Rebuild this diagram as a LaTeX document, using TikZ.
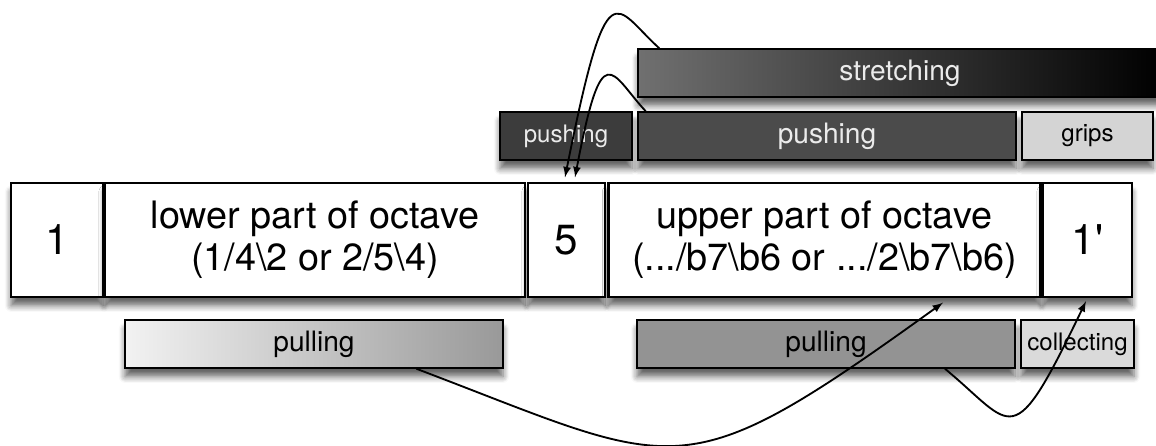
\documentclass[tikz,border=0pt]{standalone}
\usepackage{fontspec}
\setmainfont{TeX Gyre Heros}
\usetikzlibrary{shadows.blur}
\tikzset{>=latex}

\definecolor{stretchgray}{RGB}{112,112,112}
\definecolor{pushdark}{RGB}{60,60,60}
\definecolor{pushgray}{RGB}{75,75,75}
\definecolor{gripgray}{RGB}{212,212,212}
\definecolor{pullpale}{RGB}{242,242,242}
\definecolor{pullmid}{RGB}{153,153,153}
\definecolor{pullgray}{RGB}{147,147,147}
\definecolor{collectgray}{RGB}{218,218,218}
\definecolor{lighttext}{RGB}{235,235,235}

\begin{document}
\begin{tikzpicture}[
  soft/.style={blur shadow={shadow xshift=0pt, shadow yshift=-5pt, shadow blur radius=3.5pt, shadow blur steps=6, shadow opacity=60}},
  part/.style={draw, line width=1.3pt, fill=white, soft, minimum height=2.28cm, inner sep=0pt, align=center, font=\fontsize{21.5}{24}\selectfont},
  degree/.style={part, font=\fontsize{24}{26}\selectfont},
  bar/.style={draw, line width=0.9pt, soft, minimum height=0.96cm, inner sep=0pt, font=\fontsize{16}{18}\selectfont},
  smallbar/.style={bar, font=\fontsize{13.7}{15}\selectfont},
  link/.style={->, line width=1.05pt}
]
\useasboundingbox (0,0) rectangle (23.12,8.92);

\node[degree, minimum width=1.84cm] (one) at (1.14,4.12) {1};
\node[part, minimum width=8.4cm] (lower) at (6.3,4.12) {lower part of octave\\(1/4\textbackslash 2 or 2/5\textbackslash 4)};
\node[degree, minimum width=1.54cm] (five) at (11.33,4.12) {5};
\node[part, minimum width=8.64cm] (upper) at (16.49,4.12) {upper part of octave\\(.../b7\textbackslash b6 or .../2\textbackslash b7\textbackslash b6)};
\node[degree, minimum width=1.78cm] (oneprime) at (21.75,4.12) {1\textquotesingle};

\node[bar, minimum width=10.48cm, left color=stretchgray, right color=black, text=lighttext] (stretch) at (18.0,7.46) {stretching};
\node[smallbar, minimum width=2.64cm, fill=pushdark, text=lighttext] (pushsmall) at (11.32,6.2) {pushing};
\node[bar, minimum width=7.56cm, fill=pushgray, text=lighttext] (pushbig) at (16.54,6.2) {pushing};
\node[smallbar, minimum width=2.62cm, fill=gripgray] (grips) at (21.75,6.2) {grips};

\node[bar, minimum width=7.56cm, left color=pullpale, right color=pullmid] (pullleft) at (6.28,2.04) {pulling};
\node[bar, minimum width=7.56cm, fill=pullgray] (pullright) at (16.52,2.04) {pulling};
\node[smallbar, minimum width=2.26cm, fill=collectgray] (collect) at (21.55,2.04) {collecting};

\draw[link] ([xshift=0.44cm]stretch.north west) .. controls +(-0.9,0.81) and +(0.86,4.3) .. ([xshift=-0.03cm, yshift=0.09cm]five.north);
\draw[link] ([xshift=0.17cm]pushbig.north west) .. controls +(-0.7,0.75) and +(0.55,2.9) .. ([xshift=0.17cm, yshift=0.09cm]five.north);
\draw[link] ([xshift=2.05cm]pullleft.south) .. controls +(5.3,-2.01) and +(-5.3,-3.82) .. ([xshift=2.37cm, yshift=-0.09cm]upper.south);
\draw[link] ([xshift=2.38cm]pullright.south) .. controls +(1.39,-1.15) and +(-1.5,-3.12) .. ([xshift=-0.03cm, yshift=-0.06cm]oneprime.south);

\end{tikzpicture}
\end{document}
